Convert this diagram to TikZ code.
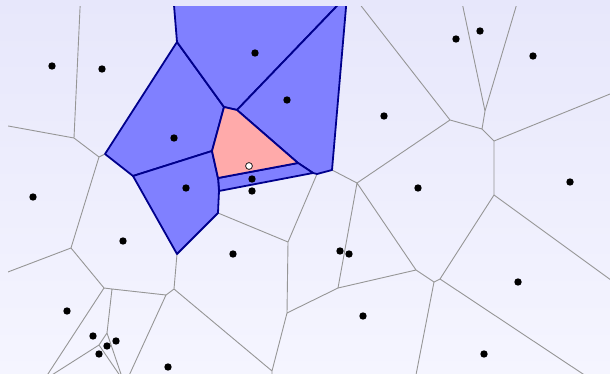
\documentclass[tikz,border=0pt]{standalone}
\usetikzlibrary{shadings}
\definecolor{edgegray}{RGB}{150,150,150}
\definecolor{cellnavy}{RGB}{0,0,140}
\definecolor{cellblue}{RGB}{128,128,255}
\definecolor{cellpink}{RGB}{255,170,170}
\definecolor{bgtop}{RGB}{231,231,251}
\definecolor{bgbot}{RGB}{245,245,255}
\tikzset{
  vedge/.style={draw=edgegray,line width=0.9pt},
  bluecell/.style={fill=cellblue,draw=cellnavy,line width=1.8pt,line join=round},
  pinkcell/.style={fill=cellpink,draw=cellnavy,line width=1.8pt,line join=round},
  site/.style={fill=black},
  query/.style={fill=white,draw=black,line width=0.7pt}
}
\begin{document}
\begin{tikzpicture}[x=1pt,y=-1pt]
\useasboundingbox (0,0) rectangle (610,374);
\shade[top color=bgtop,bottom color=bgbot] (0,0) rectangle (610,374);
% vertices
\coordinate (A) at (74,138);
\coordinate (B) at (99,157);
\coordinate (C) at (105,154);
\coordinate (D) at (71,248);
\coordinate (E) at (177,42);
\coordinate (F) at (133,176);
\coordinate (G) at (212,151);
\coordinate (H) at (224,107);
\coordinate (I) at (237,110);
\coordinate (J) at (332,170);
\coordinate (K) at (313,173);
\coordinate (L) at (298,163);
\coordinate (M) at (218,178);
\coordinate (N) at (219,191);
\coordinate (O) at (177,254);
\coordinate (P) at (218,213);
\coordinate (R) at (288,242);
\coordinate (S) at (357,183);
\coordinate (T) at (450,120);
\coordinate (U) at (317,174);
\coordinate (V) at (287,313);
\coordinate (W) at (338,288);
\coordinate (X) at (416,270);
\coordinate (Y) at (434,282);
\coordinate (Y2) at (440,279);
\coordinate (Z) at (494,195);
\coordinate (AA) at (494,141);
\coordinate (BB) at (482,129);
\coordinate (CC) at (485,111);
\coordinate (E2a) at (104,288);
\coordinate (E2b) at (112,289);
\coordinate (F2) at (166,295);
\coordinate (G2) at (174,289);
\coordinate (H2) at (107,333);
\coordinate (I2) at (99,345);
\coordinate (VV) at (272,371);
% border points (beyond the clip frame)
\coordinate (t1) at (80.4,0);
\coordinate (t2) at (173.4,-2);
\coordinate (t3) at (344.6,-2);
\coordinate (t4) at (346.8,-2);
\coordinate (t5) at (356.5,0);
\coordinate (t6) at (461.5,0);
\coordinate (t7) at (518,0);
\coordinate (l1) at (0,124.5);
\coordinate (l2) at (0,275);
\coordinate (r1) at (615,92);
\coordinate (r2) at (615,283);
\coordinate (b1) at (44,380);
\coordinate (b2) at (123,380);
\coordinate (b3) at (127,380);
\coordinate (b4) at (272,380);
\coordinate (b5) at (415,380);
\coordinate (b6) at (592,380);
\begin{scope}
\clip (8,7) rectangle (620,380);
% gray Voronoi edges
\draw[vedge] (t1)--(A) (l1)--(A) (A)--(B) (B)--(C) (B)--(D) (D)--(l2)
  (D)--(E2a) (E2a)--(E2b) (E2b)--(F2) (F2)--(G2) (G2)--(O) (F2)--(b3)
  (G2)--(VV) (VV)--(b4) (V)--(VV) (E2a)--(b1) (E2b)--(H2) (H2)--(I2)
  (H2)--(b2) (I2)--(b1) (I2)--(b2)
  (P)--(R) (U)--(R) (R)--(V) (V)--(W) (W)--(S) (W)--(X) (J)--(S)
  (S)--(T) (T)--(t5) (T)--(BB) (BB)--(CC) (CC)--(t6) (CC)--(t7)
  (BB)--(AA) (AA)--(r1) (AA)--(Z) (Z)--(r2) (Z)--(Y2) (Y2)--(Y)
  (Y)--(X) (X)--(S) (Y)--(b5) (Y2)--(b6);
% blue neighbour cells
\draw[bluecell] (C)--(E)--(H)--(G)--(F)--cycle;
\draw[bluecell] (t2)--(t3)--(I)--(H)--(E)--cycle;
\draw[bluecell] (I)--(t3)--(t4)--(J)--(U)--(K)--(L)--cycle;
\draw[bluecell] (M)--(L)--(K)--(N)--cycle;
\draw[bluecell] (F)--(G)--(M)--(N)--(P)--(O)--cycle;
% pink cell
\draw[pinkcell] (H)--(I)--(L)--(M)--(G)--cycle;
\end{scope}
% sites
\foreach \p in {(52,66),(102,69),(174,138),(33,197),(123,241),(186,188),
  (255,53),(287,100),(252,179),(252,191),(233,254),(384,116),(456,39),
  (480,31),(533,56),(418,188),(570,182),(340,251),(349,254),(518,282),
  (363,316),(484,354),(67,311),(93,336),(116,341),(107,346),(99,354),(168,367)}
  \fill[site] \p circle (3.7);
\draw[query] (249,166) circle (3.4);
\end{tikzpicture}
\end{document}
